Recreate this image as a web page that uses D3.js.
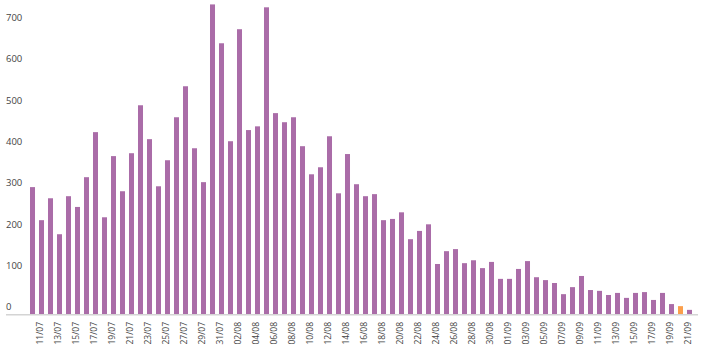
<!DOCTYPE html>
<html lang="en">
<head>
  <meta charset="UTF-8">
  <title>Daily cases</title>
  <script src="https://d3js.org/d3.v7.min.js"></script>
  <style>
    html, body { margin: 0; padding: 0; background: #ffffff; }
    .chart { display: block; }
    .y-label { font-family: 'Open Sans', sans-serif; font-size: 9.5px; fill: #444444; }
    .x-label { font-family: 'Open Sans', sans-serif; font-size: 8.5px; fill: #444444; }
  </style>
</head>
<body>
  <svg class="chart" width="706" height="351"></svg>

  <script>
    const days = [
      "10/07","11/07","12/07","13/07","14/07","15/07","16/07","17/07","18/07","19/07",
      "20/07","21/07","22/07","23/07","24/07","25/07","26/07","27/07","28/07","29/07",
      "30/07","31/07","01/08","02/08","03/08","04/08","05/08","06/08","07/08","08/08",
      "09/08","10/08","11/08","12/08","13/08","14/08","15/08","16/08","17/08","18/08",
      "19/08","20/08","21/08","22/08","23/08","24/08","25/08","26/08","27/08","28/08",
      "29/08","30/08","31/08","01/09","02/09","03/09","04/09","05/09","06/09","07/09",
      "08/09","09/09","10/09","11/09","12/09","13/09","14/09","15/09","16/09","17/09",
      "18/09","19/09","20/09","21/09"
    ];

    const cases = [
      307, 227, 280, 193, 285, 259, 331, 440, 234, 382,
      297, 389, 505, 423, 309, 372, 476, 551, 401, 319,
      749, 655, 418, 689, 445, 454, 742, 486, 464, 476,
      406, 338, 355, 430, 292, 387, 314, 285, 290, 227,
      230, 246, 181, 201, 217, 121, 152, 157, 123, 130,
      111, 126, 85, 85, 109, 128, 89, 82, 75, 48,
      65, 92, 58, 56, 46, 51, 39, 51, 53, 34,
      51, 24, 19, 10
    ];

    // the incomplete day is drawn in orange
    const highlightDay = "20/09";

    const yTicks = [0, 100, 200, 300, 400, 500, 600, 700];

    const svg = d3.select(".chart");

    const x = d3.scaleBand()
      .domain(days)
      .range([28, 694])
      .paddingInner(0.444)
      .paddingOuter(0.222);

    const y = d3.scaleLinear().domain([0, 750]).range([314, 4]);

    // y labels sit just above their value, no gridlines
    svg.append("g")
      .selectAll("text")
      .data(yTicks)
      .join("text")
      .attr("class", "y-label")
      .attr("x", 6)
      .attr("y", d => y(d) - 7)
      .attr("dy", "0.35em")
      .text(d => d);

    svg.append("g")
      .selectAll("rect")
      .data(days)
      .join("rect")
      .attr("x", d => x(d))
      .attr("y", (d, i) => y(cases[i]))
      .attr("width", x.bandwidth())
      .attr("height", (d, i) => y(0) - y(cases[i]))
      .attr("fill", d => d === highlightDay ? "#fb9f4c" : "#aa6ca8");

    svg.append("line")
      .attr("x1", 6).attr("x2", 698)
      .attr("y1", y(0) + 0.75).attr("y2", y(0) + 0.75)
      .attr("stroke", "#d4d4d4")
      .attr("stroke-width", 1.5);

    // every other day gets a rotated label
    svg.append("g")
      .selectAll("text")
      .data(days.filter((d, i) => i % 2 === 1))
      .join("text")
      .attr("class", "x-label")
      .attr("text-anchor", "end")
      .attr("dy", "0.35em")
      .attr("transform", d => `translate(${x(d) + x.bandwidth() / 2 - 1},322) rotate(-90)`)
      .text(d => d);
  </script>
</body>
</html>
